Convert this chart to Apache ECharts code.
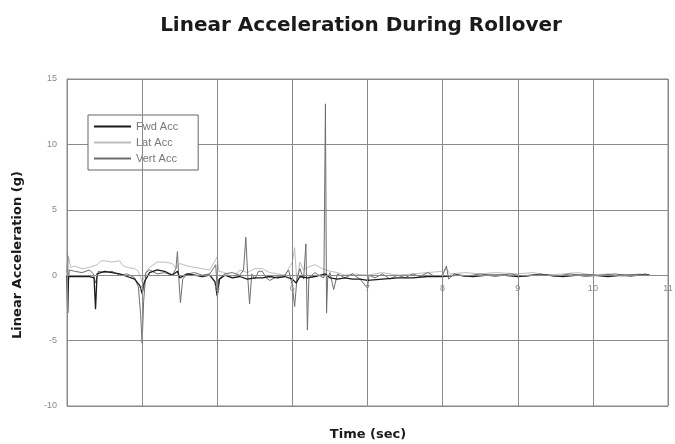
<!DOCTYPE html>
<html>
<head>
<meta charset="utf-8">
<script src="https://cdn.jsdelivr.net/npm/echarts@6/dist/echarts.min.js"></script>
<style>html,body{margin:0;padding:0;background:#fff}#c{width:675px;height:444px}</style>
</head>
<body>
<div id="c"></div>
<script>
var titleText = "Linear Acceleration During Rollover";
var xTitle = "Time (sec)";
var yTitle = "Linear Acceleration (g)";
var seriesNames = ["Fwd Acc", "Lat Acc", "Vert Acc"];

var fwdT = [3.00,3.01,3.02,3.1,3.2,3.3,3.36,3.38,3.40,3.5,3.6,3.7,3.8,3.9,3.97,4.0,4.03,4.1,4.2,4.3,4.4,4.47,4.5,4.6,4.7,4.8,4.9,4.97,5.0,5.03,5.1,5.2,5.3,5.4,5.5,5.6,5.7,5.8,5.9,6.0,6.05,6.1,6.2,6.3,6.44,6.5,6.6,6.7,6.8,6.9,7.0,7.2,7.4,7.6,7.8,8.0,8.2,8.4,8.6,8.8,9.0,9.2,9.4,9.6,9.8,10.0,10.2,10.4,10.6,10.75];
var fwdV = [0,-2.9,-0.1,-0.1,-0.1,-0.1,-0.2,-2.6,0.1,0.3,0.2,0.1,-0.1,-0.3,-0.8,-1.4,-0.5,0.2,0.4,0.3,0,0.3,-0.2,0.1,0,-0.1,0,-0.5,-1.6,-0.3,0,-0.2,-0.1,-0.3,-0.2,-0.2,-0.1,-0.2,-0.1,-0.3,-0.6,-0.1,-0.2,-0.1,0.1,-0.2,-0.3,-0.2,-0.3,-0.3,-0.4,-0.3,-0.2,-0.2,-0.1,-0.1,0,-0.1,0,0,-0.1,0,0,-0.1,0,0,-0.1,0,0,0];

var latT = [3.0,3.02,3.05,3.1,3.2,3.3,3.4,3.45,3.5,3.6,3.7,3.75,3.8,3.9,3.95,4.0,4.05,4.1,4.2,4.3,4.4,4.45,4.5,4.6,4.7,4.8,4.9,5.0,5.02,5.1,5.2,5.3,5.4,5.5,5.6,5.7,5.8,5.9,6.0,6.03,6.06,6.1,6.15,6.2,6.3,6.4,6.5,6.6,6.7,6.8,7.0,7.2,7.4,7.6,7.8,8.0,8.05,8.1,8.3,8.5,8.7,9.0,9.2,9.4,9.6,9.8,10.0,10.2,10.4,10.6,10.75];
var latV = [0.5,1.4,0.6,0.7,0.5,0.6,0.8,1.1,1.1,1.0,1.1,0.7,0.6,0.5,0.3,-0.5,0.2,0.6,1.0,1.0,0.9,0.5,0.9,0.7,0.6,0.5,0.4,1.4,0.3,0.2,-0.2,0.4,0.2,0.5,0.5,0.2,0.1,0,1.0,2.1,-0.5,1.0,0.4,0.6,0.8,0.5,0.3,0.2,0,0.1,0,0.2,0,0.1,0.2,0.3,0.5,0.1,0.2,0.1,0.2,0.1,0.2,0,0.1,0.2,0,0.1,-0.1,0.1,0];

var vertT = [3.00,3.01,3.015,3.03,3.1,3.2,3.3,3.35,3.38,3.42,3.5,3.6,3.7,3.8,3.9,3.95,3.98,4.0,4.02,4.05,4.1,4.2,4.3,4.4,4.45,4.47,4.49,4.51,4.54,4.6,4.7,4.8,4.9,4.98,5.0,5.02,5.1,5.2,5.3,5.35,5.38,5.41,5.43,5.46,5.5,5.55,5.6,5.65,5.7,5.8,5.9,5.95,6.0,6.03,6.06,6.1,6.15,6.18,6.2,6.22,6.3,6.35,6.42,6.44,6.455,6.47,6.5,6.55,6.6,6.7,6.8,6.9,7.0,7.02,7.1,7.2,7.3,7.4,7.5,7.6,7.7,7.8,7.9,8.0,8.05,8.08,8.15,8.3,8.5,8.7,8.9,9.1,9.3,9.5,9.7,9.9,10.1,10.3,10.5,10.7,10.76];
var vertV = [0.2,1.5,-1.0,0.4,0.3,0.2,0.4,0.1,-0.6,0.3,0.2,0.3,0,0.1,-0.2,-0.9,-3.0,-5.2,-2.0,0.2,0.4,0.1,0.2,0,0.5,1.8,-0.4,-2.1,-0.3,0.1,0.2,0,0.1,0.8,-1.2,-0.3,0.1,0.2,0,0.4,2.9,-0.5,-2.2,0.1,-0.3,0.3,0.3,-0.2,-0.4,-0.1,0,0.4,-0.8,-2.4,-0.3,0.5,-0.3,2.4,-4.2,-0.2,0.2,0,-0.2,13.1,-2.9,-0.2,0.2,-1.1,0.1,-0.2,0.1,-0.3,-1.0,0,-0.2,0.1,-0.3,0,-0.2,0.1,-0.1,0.2,-0.1,0,0.7,-0.3,0.1,-0.1,0.1,-0.1,0.1,-0.1,0.1,-0.1,0.1,-0.1,0,0.1,-0.1,0.1,0];

var xMin = 3, xMax = 11, xStep = 1;
var yMin = -10, yMax = 15, yStep = 5;

function pairs(t, v) { return t.map(function (x, i) { return [x, v[i]]; }); }

var H = 444, gTop = 79, gBottom = 38;
var zeroOffset = -(H - gTop - gBottom) * (0 - yMin) / (yMax - yMin);

var chart = echarts.init(document.getElementById('c'), null, {renderer: 'canvas'});
var font = '"DejaVu Sans", sans-serif';
var lfont = '"Liberation Sans", Arial, sans-serif';
var gridCol = '#8a8a8a';
chart.setOption({
  backgroundColor: '#fff',
  animation: false,
  title: {
    text: titleText, left: 356, top: 11, textAlign: 'center',
    textStyle: {fontFamily: font, fontWeight: 'bold', fontSize: 20, color: '#1a1a1a'}
  },
  graphic: [
    {type: 'text', silent: true, z: 10, x: 368, y: 435,
     style: {text: xTitle, fontFamily: font, fontWeight: 'bold', fontSize: 13, fill: '#1a1a1a', textAlign: 'center', textVerticalAlign: 'middle'}},
    {type: 'text', silent: true, z: 10, rotation: Math.PI / 2, x: 18, y: 255,
     style: {text: yTitle, fontFamily: font, fontWeight: 'bold', fontSize: 13, fill: '#1a1a1a', textAlign: 'center', textVerticalAlign: 'middle'}}
  ],
  legend: {
    data: seriesNames.map(function (n) { return {name: n, icon: 'rect'}; }),
    orient: 'vertical', left: 88, top: 115,
    itemWidth: 37, itemHeight: 2, itemGap: 5,
    backgroundColor: '#fff',
    borderColor: '#666', borderWidth: 1, borderRadius: 0,
    padding: [6, 20, 6, 6],
    textStyle: {fontFamily: lfont, fontSize: 11, color: '#777'}
  },
  grid: {left: 67, right: 7, top: gTop, bottom: gBottom, show: true, borderColor: gridCol, borderWidth: 1, containLabel: false, outerBoundsMode: 'none'},
  xAxis: {
    type: 'value', min: xMin, max: xMax, interval: xStep,
    offset: zeroOffset, z: 10,
    axisLine: {onZero: false, lineStyle: {color: gridCol}},
    axisTick: {show: true, inside: false, length: 4, lineStyle: {color: gridCol}},
    axisLabel: {showMinLabel: false, fontFamily: lfont, fontSize: 9, color: '#888', margin: 9},
    splitLine: {show: true, lineStyle: {color: gridCol, width: 1}}
  },
  yAxis: {
    type: 'value', min: yMin, max: yMax, interval: yStep,
    axisLine: {show: true, lineStyle: {color: gridCol}},
    axisTick: {show: false},
    axisLabel: {fontFamily: lfont, fontSize: 9, color: '#888', margin: 10},
    splitLine: {show: true, lineStyle: {color: gridCol, width: 1}}
  },
  series: [
    {name: seriesNames[1], type: 'line', data: pairs(latT, latV), showSymbol: false, color: '#bdbdbd', lineStyle: {width: 1, color: '#bdbdbd'}, z: 2},
    {name: seriesNames[2], type: 'line', data: pairs(vertT, vertV), showSymbol: false, color: '#6e6e6e', lineStyle: {width: 1, color: '#6e6e6e'}, z: 3},
    {name: seriesNames[0], type: 'line', data: pairs(fwdT, fwdV), showSymbol: false, color: '#1a1a1a', lineStyle: {width: 1.3, color: '#1a1a1a'}, z: 4}
  ]
});
</script>
</body>
</html>
